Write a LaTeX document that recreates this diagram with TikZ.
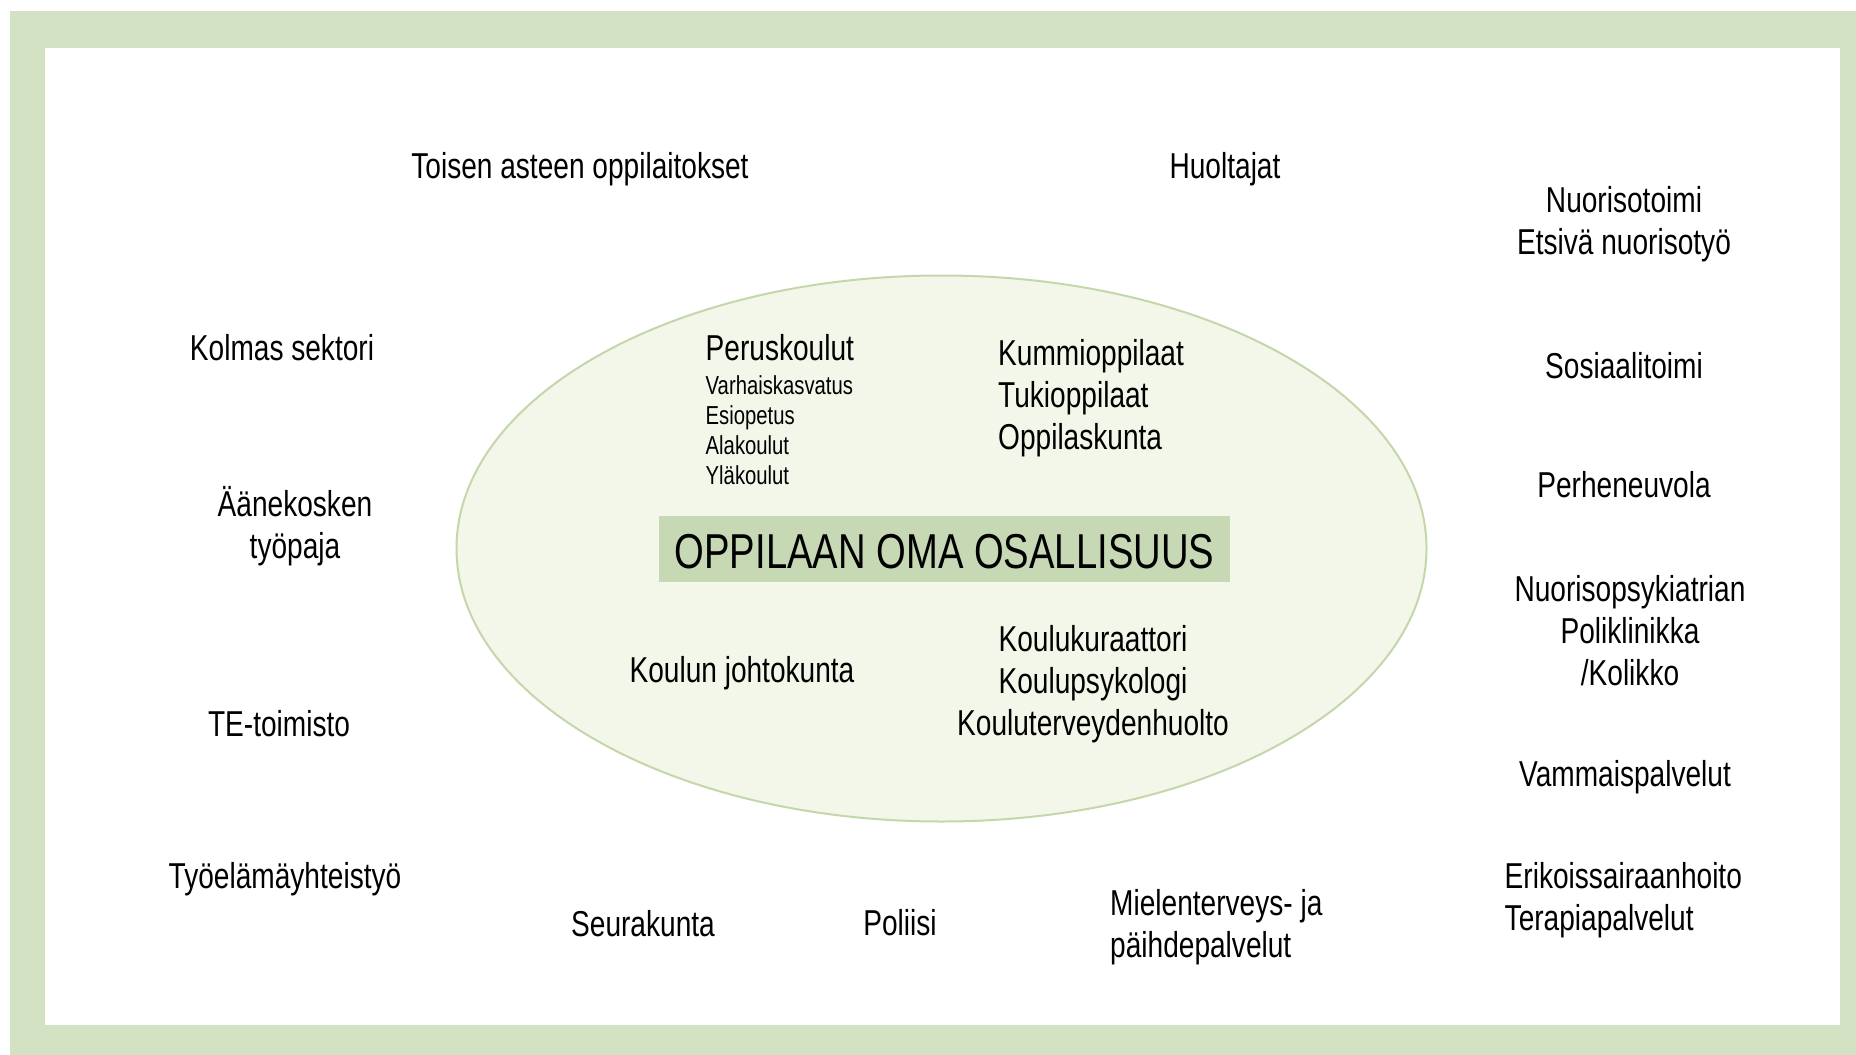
\documentclass[tikz,border=0pt]{standalone}
\usepackage{fontspec}
\usetikzlibrary{shapes.geometric}
\setmainfont[FakeStretch=0.78]{Liberation Sans}
\definecolor{bandgreen}{RGB}{212,226,196}
\definecolor{ellfill}{RGB}{243,247,234}
\definecolor{elldraw}{RGB}{196,215,170}
\definecolor{titlefill}{RGB}{198,217,180}
\begin{document}
\begin{tikzpicture}[x=1pt,y=-1pt,
  lbl/.style={inner sep=0pt, font=\fontsize{36}{42}\selectfont, align=center, text=black},
  lbll/.style={lbl, align=left},
  small/.style={inner sep=0pt, font=\fontsize{26}{30}\selectfont, anchor=base west, text=black}]
\useasboundingbox (0,0) rectangle (1856,1055);
% patterned frame band
\fill[bandgreen] (10,11) rectangle (1856,1055);
\fill[white] (45,48) rectangle (1840,1025);
% central ellipse
\node[draw=elldraw, line width=2pt, fill=ellfill, ellipse, minimum width=970pt, minimum height=546pt, inner sep=0pt] (ell) at (941.5,548.5) {};
% title
\node[fill=titlefill, minimum width=571pt, minimum height=66pt, inner sep=0pt, text height=38pt, text depth=0pt, font=\fontsize{49}{56}\selectfont] (title) at (944.5,549) {OPPILAAN OMA OSALLISUUS};
% inner texts
\node[lbl, anchor=west] (perus) at (705.5,348) {Peruskoulut};
\node[small] (varh) at (705.5,394) {Varhaiskasvatus};
\node[small] (esio) at (705.5,424) {Esiopetus};
\node[small] (ala) at (705.5,454) {Alakoulut};
\node[small] (yla) at (705.5,484) {Yläkoulut};
\node[lbll, anchor=west] (kummi) at (998,398) {Kummioppilaat\\Tukioppilaat\\Oppilaskunta};
\node[lbl] (johto) at (742,673) {Koulun johtokunta};
\node[lbl] (kuraattori) at (1093,684) {Koulukuraattori\\Koulupsykologi\\Kouluterveydenhuolto};
% outer texts
\node[lbl] (toisen) at (580,169) {Toisen asteen oppilaitokset};
\node[lbl] (huolt) at (1225,169) {Huoltajat};
\node[lbl] (nuoriso) at (1624,224) {Nuorisotoimi\\Etsivä nuorisotyö};
\node[lbl] (kolmas) at (282,348) {Kolmas sektori};
\node[lbl] (sosiaali) at (1624,366) {Sosiaalitoimi};
\node[lbl] (aane) at (295,526) {Äänekosken\\työpaja};
\node[lbl] (perhe) at (1624,485) {Perheneuvola};
\node[lbl] (psyk) at (1630,631) {Nuorisopsykiatrian\\Poliklinikka\\/Kolikko};
\node[lbl] (te) at (279,724) {TE-toimisto};
\node[lbl] (vammais) at (1625,777) {Vammaispalvelut};
\node[lbl] (tyoel) at (285,879) {Työelämäyhteistyö};
\node[lbll, anchor=west] (erik) at (1504.5,900) {Erikoissairaanhoito\\Terapiapalvelut};
\node[lbl] (seura) at (643,924) {Seurakunta};
\node[lbl] (poliisi) at (900,923) {Poliisi};
\node[lbll, anchor=west] (mielen) at (1110,927) {Mielenterveys- ja\\päihdepalvelut};
\end{tikzpicture}
\end{document}
